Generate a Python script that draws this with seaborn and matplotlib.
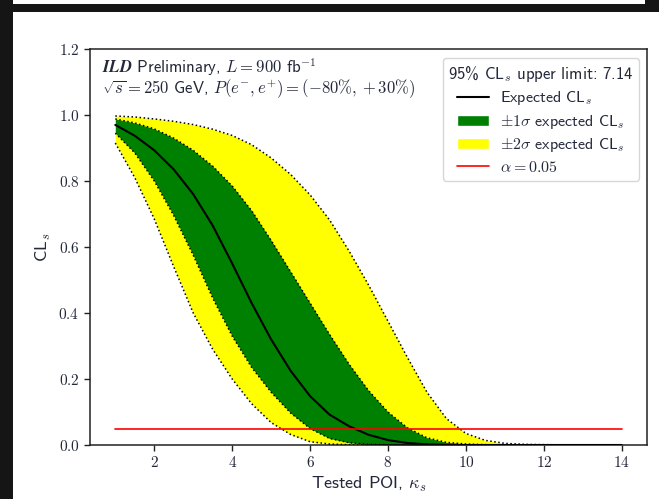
import matplotlib
matplotlib.use('Agg')
import matplotlib.pyplot as plt
import seaborn as sns
from matplotlib.lines import Line2D
from matplotlib.patches import Patch, Rectangle
from matplotlib.ticker import FuncFormatter

# tested POI values and the CLs curves
kappa = [1, 1.5, 2, 2.5, 3, 3.5, 4, 4.5, 5, 5.5, 6, 6.5, 7, 7.5, 8, 8.5,
         9, 9.5, 10, 10.5, 11, 11.5, 12, 13, 14]
cls_exp = [0.970, 0.937, 0.893, 0.835, 0.760, 0.665, 0.550, 0.430, 0.320, 0.225,
           0.148, 0.092, 0.057, 0.031, 0.015, 0.006, 0.002, 0.0005, 0, 0, 0, 0, 0, 0, 0]
cls_p1 = [0.988, 0.976, 0.958, 0.930, 0.893, 0.845, 0.785, 0.710, 0.620, 0.525,
          0.430, 0.335, 0.245, 0.165, 0.100, 0.052, 0.022, 0.008, 0.003, 0.001, 0, 0, 0, 0, 0]
cls_m1 = [0.945, 0.885, 0.800, 0.695, 0.575, 0.445, 0.330, 0.235, 0.160, 0.097,
          0.050, 0.020, 0.007, 0.002, 0.0005, 0, 0, 0, 0, 0, 0, 0, 0, 0, 0]
cls_p2 = [0.997, 0.994, 0.988, 0.981, 0.971, 0.957, 0.938, 0.910, 0.870, 0.820,
          0.758, 0.682, 0.588, 0.485, 0.375, 0.265, 0.160, 0.080, 0.035, 0.014, 0.005,
          0.002, 0.001, 0, 0]
cls_m2 = [0.915, 0.810, 0.685, 0.540, 0.400, 0.290, 0.200, 0.125, 0.068, 0.032,
          0.010, 0.003, 0.001, 0, 0, 0, 0, 0, 0, 0, 0, 0, 0, 0, 0]
alpha = 0.05
upper_limit = 7.14

sns.set_theme(style='ticks')
plt.rcParams['font.family'] = ['cmss10', 'DejaVu Sans']
plt.rcParams['mathtext.fontset'] = 'cm'
plt.rcParams['axes.unicode_minus'] = False
txt = '#23283a'

fig = plt.figure(figsize=(6.59, 4.99), dpi=100, facecolor='#151515')
# white canvas of the screenshot
fig.patches.append(Rectangle((13 / 659, 0), 1, (499 - 12) / 499, transform=fig.transFigure,
                             facecolor='white', edgecolor='none', zorder=-10))
fig.patches.append(Rectangle((13 / 659, (499 - 4) / 499), (645 - 13) / 659, 4 / 499,
                             transform=fig.transFigure, facecolor='white',
                             edgecolor='none', zorder=-10))
ax = fig.add_axes([90 / 659, 1 - 445 / 499, (647 - 90) / 659, (445 - 49) / 499])
ax.set_facecolor('white')

ax.fill_between(kappa, cls_m2, cls_p2, color='yellow', lw=0, zorder=1)
ax.fill_between(kappa, cls_m1, cls_p1, color='green', lw=0, zorder=2)
for band in [cls_p2, cls_m2, cls_p1, cls_m1]:
    sns.lineplot(x=kappa, y=band, color='black', linestyle=':', lw=1.1, ax=ax, zorder=3)
sns.lineplot(x=kappa, y=cls_exp, color='black', lw=1.5, ax=ax, zorder=4)
sns.lineplot(x=[kappa[0], kappa[-1]], y=[alpha, alpha], color='red', lw=1.2, ax=ax, zorder=5)

ax.set_ylim(0, 1.2)
ax.set_xlim(0.35, 14.65)
ax.set_xticks([2, 4, 6, 8, 10, 12, 14])
ax.set_yticks([0, 0.2, 0.4, 0.6, 0.8, 1.0, 1.2])
ax.xaxis.set_major_formatter(FuncFormatter(lambda v, p: f'${v:g}$'))
ax.yaxis.set_major_formatter(FuncFormatter(lambda v, p: f'${v:.1f}$'))
ax.tick_params(labelsize=11, colors='#222222', labelcolor=txt, length=4, width=1)
for s in ax.spines.values():
    s.set_color('#222222')
    s.set_linewidth(1.1)

ax.set_xlabel(r'Tested POI, $\kappa_s$', fontsize=13, color=txt, labelpad=3)
ax.set_ylabel(r'CL$_s$', fontsize=13, color=txt)

ax.text(0.022, 0.982, r'$\mathbfit{ILD}$ Preliminary, $L = 900$ fb$^{-1}$' + '\n'
        + r'$\sqrt{s} = 250$ GeV, $P(e^{-}, e^{+}) = (-80\%, +30\%)$',
        transform=ax.transAxes, ha='left', va='top', fontsize=12, color=txt,
        linespacing=0.95)

handles = [Line2D([], [], color='black', lw=1.5),
           Patch(facecolor='green'),
           Patch(facecolor='yellow'),
           Line2D([], [], color='red', lw=1.2)]
labels = [r'Expected CL$_s$', r'$\pm1\sigma$ expected CL$_s$',
          r'$\pm2\sigma$ expected CL$_s$', r'$\alpha = 0.05$']
leg = ax.legend(handles, labels, loc='upper right', fontsize=11.5,
                title=f'95% CL$_s$ upper limit: {upper_limit}', title_fontsize=12,
                frameon=True, fancybox=True, edgecolor='#cccccc',
                labelspacing=0.35, borderpad=0.35, handletextpad=0.7,
                bbox_to_anchor=(0.992, 0.985), borderaxespad=0.2)
for t in leg.get_texts():
    t.set_color(txt)
leg.get_title().set_color(txt)

fig.savefig('out.png', dpi=100, facecolor=fig.get_facecolor())
